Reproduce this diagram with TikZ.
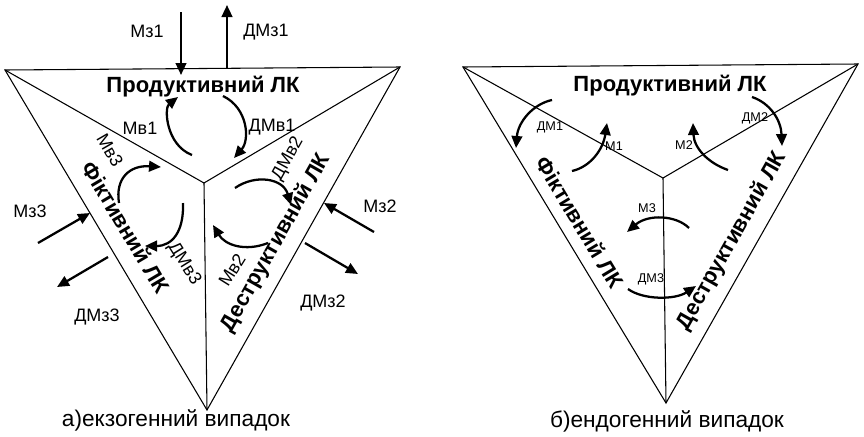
\documentclass[tikz,border=0pt]{standalone}
\usepackage{fontspec}
\setmainfont{Liberation Sans}
\usetikzlibrary{arrows.meta}

\begin{document}
\begin{tikzpicture}[x=0.75pt,y=-0.75pt,
  edge/.style={line width=0.8pt, line join=miter},
  flow/.style={line width=1.7pt, -{Triangle[length=9pt,width=8pt]}},
  zone/.style={font=\bfseries\fontsize{16.5}{19}\selectfont, inner sep=0pt},
  lab/.style={font=\fontsize{13.5}{16}\selectfont, inner sep=0pt},
  small/.style={font=\fontsize{9.5}{11}\selectfont, inner sep=0pt},
  caption/.style={font=\fontsize{17}{20}\selectfont, inner sep=0pt}]
\useasboundingbox (0,0) rectangle (864,436);

% ---------- a) exogenous case ----------
\coordinate (A1) at (5,70);
\coordinate (B1) at (400,67);
\coordinate (C1) at (207,410);
\coordinate (O1) at (204,183);
\draw[edge] (A1) -- (B1) -- (C1) -- cycle;
\draw[edge] (A1) -- (O1) -- (B1);
\draw[edge] (O1) -- (C1);

\node[zone] (prod1) at (203,87) {Продуктивний ЛК};
\node[zone, rotate=-59.3] (fict1) at (126,227) {Фіктивний ЛК};
\node[zone, rotate=60.6] (destr1) at (276,243) {Деструктивний ЛК};

% external flows
\coordinate (mz1s) at (181,12);  \coordinate (mz1e) at (181,75);
\coordinate (dmz1s) at (227,68); \coordinate (dmz1e) at (227,5);
\coordinate (mz3s) at (38,243);  \coordinate (mz3e) at (90,213);
\coordinate (dmz3s) at (108,257); \coordinate (dmz3e) at (57,287);
\coordinate (mz2s) at (374,232); \coordinate (mz2e) at (324,203);
\coordinate (dmz2s) at (305,243); \coordinate (dmz2e) at (358,274);
\draw[flow] (mz1s) -- (mz1e);
\draw[flow] (dmz1s) -- (dmz1e);
\draw[flow] (mz3s) -- (mz3e);
\draw[flow] (dmz3s) -- (dmz3e);
\draw[flow] (mz2s) -- (mz2e);
\draw[flow] (dmz2s) -- (dmz2e);

\node[lab] (lmz1) at (147,31) {Мз1};
\node[lab] (ldmz1) at (266,32) {ДМз1};
\node[lab] (lmz3) at (30,211) {Мз3};
\node[lab] (ldmz3) at (97,317) {ДМз3};
\node[lab] (lmz2) at (380,206) {Мз2};
\node[lab] (ldmz2) at (323,303) {ДМз2};

% internal flows
\coordinate (mv1s) at (192,155);  \coordinate (mv1e) at (178,97);
\coordinate (dmv1s) at (223,96);  \coordinate (dmv1e) at (234,158);
\coordinate (mv3s) at (119,203);  \coordinate (mv3e) at (161,167);
\coordinate (dmv3s) at (183,203); \coordinate (dmv3e) at (145,246);
\coordinate (dmv2s) at (235,188); \coordinate (dmv2e) at (291,205);
\coordinate (mv2s) at (268,243);  \coordinate (mv2e) at (213,225);
\draw[flow] (mv1s) .. controls (166,145) and (164,108) .. (mv1e);
\draw[flow] (dmv1s) .. controls (248,108) and (250,140) .. (dmv1e);
\draw[flow] (mv3s) .. controls (115,178) and (130,165) .. (mv3e);
\draw[flow] (dmv3s) .. controls (184,232) and (172,246) .. (dmv3e);
\draw[flow] (dmv2s) .. controls (255,174) and (283,178) .. (dmv2e);
\draw[flow] (mv2s) .. controls (245,252) and (225,245) .. (mv2e);

\node[lab] (lmv1) at (140,128) {Мв1};
\node[lab] (ldmv1) at (272,127) {ДМв1};
\node[lab, rotate=-60] (lmv3) at (110,150) {Мв3};
\node[lab, rotate=-58] (ldmv3) at (184,264) {ДМв3};
\node[lab, rotate=61] (ldmv2) at (288,159) {ДМв2};
\node[lab, rotate=58] (lmv2) at (232,270) {Мв2};

\node[caption] (capA) at (176,420) {а)екзогенний випадок};

% ---------- b) endogenous case ----------
\coordinate (A2) at (463,67);
\coordinate (B2) at (858,64);
\coordinate (C2) at (666,403);
\coordinate (O2) at (663,178);
\draw[edge] (A2) -- (B2) -- (C2) -- cycle;
\draw[edge] (A2) -- (O2) -- (B2);
\draw[edge] (O2) -- (C2);

\node[zone] (prod2) at (670,86) {Продуктивний ЛК};
\node[zone, rotate=-58.9] (fict2) at (580,222) {Фіктивний ЛК};
\node[zone, rotate=60.5] (destr2) at (732,241) {Деструктивний ЛК};

\coordinate (dm1s) at (552,100); \coordinate (dm1e) at (516,148);
\coordinate (m1s) at (572,171);  \coordinate (m1e) at (607,123);
\coordinate (m2s) at (728,170);  \coordinate (m2e) at (693,123);
\coordinate (dm2s) at (752,97);  \coordinate (dm2e) at (782,146);
\coordinate (m3s) at (689,228);  \coordinate (m3e) at (627,232);
\coordinate (dm3s) at (628,289); \coordinate (dm3e) at (696,286);
\draw[flow] (dm1s) .. controls (533,104) and (518,122) .. (dm1e);
\draw[flow] (m1s) .. controls (590,167) and (603,150) .. (m1e);
\draw[flow] (m2s) .. controls (708,163) and (694,148) .. (m2e);
\draw[flow] (dm2s) .. controls (770,103) and (781,120) .. (dm2e);
\draw[flow] (m3s) .. controls (676,215) and (648,214) .. (m3e);
\draw[flow] (dm3s) .. controls (643,300) and (675,300) .. (dm3e);

\node[small] (ldm1) at (550,127) {ДМ1};
\node[small] (lm1) at (614,146) {М1};
\node[small] (lm2) at (684,145) {М2};
\node[small] (ldm2) at (755,118) {ДМ2};
\node[small] (lm3) at (647,208) {М3};
\node[small] (ldm3) at (651,279) {ДМ3};

\node[caption] (capB) at (667,421) {б)ендогенний випадок};
\end{tikzpicture}
\end{document}
